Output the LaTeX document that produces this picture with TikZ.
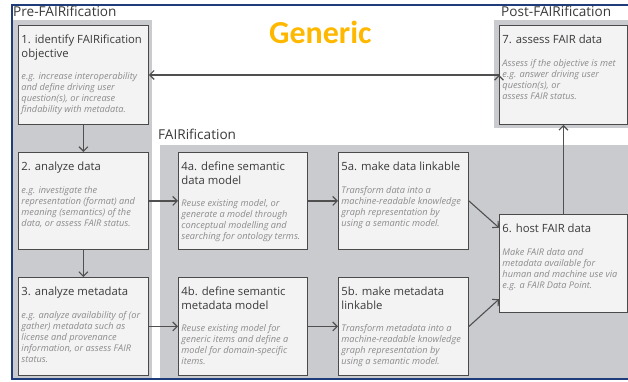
\documentclass[tikz,border=0pt]{standalone}
\usepackage{fontspec}
\setmainfont{Open Sans}
\newfontfamily\genericfont{Carlito}
\usetikzlibrary{arrows.meta,positioning}

\definecolor{framebl}{HTML}{1F3D7A}
\definecolor{panelgray}{HTML}{C9CBCE}
\definecolor{boxfill}{HTML}{F3F3F4}
\definecolor{boxline}{HTML}{4A4A4A}
\definecolor{titlegray}{HTML}{3A3A3A}
\definecolor{bodygray}{HTML}{8C8C8C}
\definecolor{arrowgray}{HTML}{505050}
\definecolor{genericorange}{HTML}{FFB800}

\newcommand{\boxtitle}[1]{{\fontsize{11.3}{14}\selectfont\color{titlegray}\strut#1\par}}
\newcommand{\boxbody}[1]{{\fontsize{9.2}{11}\selectfont\itshape\color{bodygray}#1\par}}
\newcommand{\stepcontent}[4]{\parbox[t][#2][t]{#1}{\raggedright\vspace*{8pt}\boxtitle{#3}\vspace{11pt}\boxbody{#4}}}

\tikzset{
  stepbox/.style={draw=boxline, fill=boxfill, line width=0.9pt, anchor=north west,
    inner xsep=3pt, inner ysep=0pt},
  phaselabel/.style={anchor=base west, inner sep=0pt, text=titlegray,
    font=\fontsize{13.6}{15}\selectfont},
  flow/.style={draw=arrowgray, line width=1.1pt, -{Straight Barb[length=4.5pt,width=9pt]}}
}

\begin{document}
\begin{tikzpicture}[x=1pt,y=-1pt]
  \useasboundingbox (0,0) rectangle (628,381);
  % panels
  \fill[panelgray] (12,20) rectangle (152,379);
  \fill[panelgray] (160,145) rectangle (640,379);
  \fill[panelgray] (494,20) rectangle (640,128);
  \draw[framebl, line width=2pt] (12,5) rectangle (640,379);

  \node[phaselabel] (pre)  at (13,16)  {Pre-FAIRification};
  \node[phaselabel] (post) at (501,16) {Post-FAIRification};
  \node[phaselabel] (fair) at (158,139) {FAIRification};
  \node[anchor=base west, inner sep=0pt, text=genericorange,
    font=\genericfont\bfseries\fontsize{32}{34}\selectfont] (generic) at (269,43) {Generic};

  \node[stepbox] (s1)  at (18,25)   {\stepcontent{124pt}{99pt}{1. identify FAIRification\\objective}{e.g. increase interoperability\\and define driving user\\question(s), or increase\\findability with metadata.}};
  \node[stepbox] (s2)  at (18,152)  {\stepcontent{124pt}{97pt}{2. analyze data}{e.g. investigate the\\representation (format) and\\meaning (semantics) of the\\data, or assess FAIR status.}};
  \node[stepbox] (s3)  at (18,277)  {\stepcontent{124pt}{98pt}{3. analyze metadata}{e.g. analyze availability of (or\\gather) metadata such as\\license and provenance\\information, or assess FAIR\\status.}};
  \node[stepbox] (s4a) at (178,152) {\stepcontent{123pt}{97pt}{4a. define semantic\\data model}{Reuse existing model, or\\generate a model through\\conceptual modelling and\\searching for ontology terms.}};
  \node[stepbox] (s4b) at (178,277) {\stepcontent{123pt}{98pt}{4b. define semantic\\metadata model}{Reuse existing model for\\generic items and define a\\model for domain-specific\\items.}};
  \node[stepbox] (s5a) at (338,152) {\stepcontent{124pt}{97pt}{5a. make data linkable}{Transform data into a\\machine-readable knowledge\\graph representation by\\using a semantic model.}};
  \node[stepbox] (s5b) at (338,277) {\stepcontent{124pt}{98pt}{5b. make metadata\\linkable}{Transform metadata into a\\machine-readable knowledge\\graph representation by\\using a semantic model.}};
  \node[stepbox] (s6)  at (499,214) {\stepcontent{122pt}{98pt}{6. host FAIR data}{Make FAIR data and\\metadata available for\\human and machine use via\\e.g. a FAIR Data Point.}};
  \node[stepbox] (s7)  at (499,25)  {\stepcontent{122pt}{99pt}{7. assess FAIR data}{Assess if the objective is met\\e.g. answer driving user\\question(s), or\\assess FAIR status.}};

  \path[flow]
    (s1.south)  edge (s2.north)
    (s2.south)  edge (s3.north)
    (s2.east)   edge (s4a.west)
    (s3.east)   edge (s4b.west)
    (s4a.east)  edge (s5a.west)
    (s4b.east)  edge (s5b.west)
    (s5a.east)  edge (s6.151)
    (s5b.east)  edge (s6.209)
    (s6.north)  edge (s7.south)
    (s7.west)   edge (s1.east);
\end{tikzpicture}
\end{document}
